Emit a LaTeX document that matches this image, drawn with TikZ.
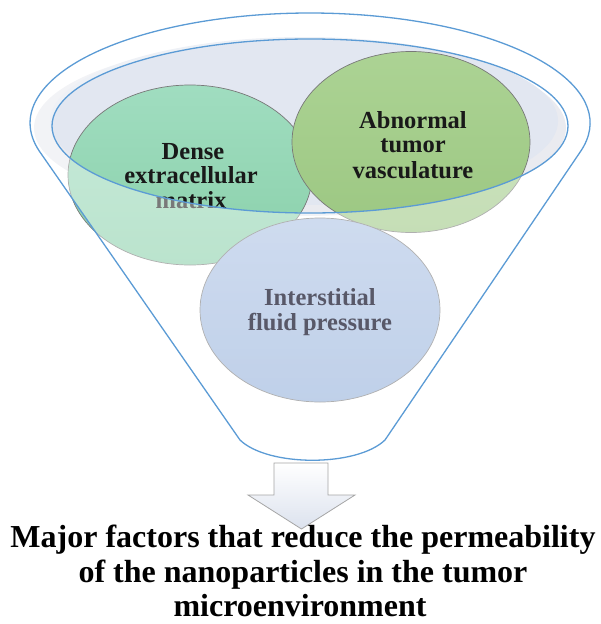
\documentclass[tikz,border=0pt]{standalone}
\usepackage{fontspec}
\setmainfont{Liberation Serif}
\usetikzlibrary{shapes.geometric}
\definecolor{funnelblue}{RGB}{91,155,213}
\definecolor{circgray}{RGB}{120,120,120}
\definecolor{bowlfill}{RGB}{226,231,241}
\definecolor{bowlshadow}{RGB}{234,235,240}
\definecolor{denseTop}{RGB}{160,221,192}
\definecolor{denseBot}{RGB}{138,208,170}
\definecolor{abnTop}{RGB}{172,211,148}
\definecolor{abnBot}{RGB}{156,199,130}
\definecolor{fluidTop}{RGB}{172,194,228}
\definecolor{fluidBot}{RGB}{146,175,218}
\definecolor{fluidtext}{RGB}{88,88,104}
\definecolor{arrowgray}{RGB}{165,165,165}
\definecolor{arrowfill}{RGB}{220,226,238}
\begin{document}
\begin{tikzpicture}[x=1pt,y=-1pt,
  blob/.style={ellipse, draw=circgray, line width=0.7pt, inner sep=0pt},
  ctext/.style={anchor=base, inner sep=0pt, font=\bfseries\fontsize{24.5}{26}\selectfont, text=black!90},
  btext/.style={anchor=base, inner sep=0pt, font=\bfseries\fontsize{32}{35}\selectfont, text=black},
  funnelline/.style={draw=funnelblue, line width=1.3pt, line join=round}]
\useasboundingbox (0,0) rectangle (600,624);

% bowl interior
\fill[bowlshadow] (300,128) ellipse[x radius=266, y radius=88];
\fill[bowlfill] (304,121) ellipse[x radius=254, y radius=84];

% circles
\node[blob, minimum width=244pt, minimum height=180pt, top color=denseTop, bottom color=denseBot] (dense) at (190,175) {};
\node[blob, minimum width=238pt, minimum height=181pt, top color=abnTop, bottom color=abnBot] (abn) at (411,142) {};
\node[blob, minimum width=240pt, minimum height=184pt, top color=fluidTop, bottom color=fluidBot] (fluid) at (320,310) {};

% circle texts
\node[ctext] (d1) at (193,159) {Dense};
\node[ctext] (d2) at (191,183) {extracellular};
\node[ctext] (d3) at (191,208) {matrix};
\node[ctext] (a1) at (413,128) {Abnormal};
\node[ctext] (a2) at (413,152) {tumor};
\node[ctext] (a3) at (413,178) {vasculature};

% translucent funnel body
\fill[white, fill opacity=0.42, even odd rule]
  (580.5,151.5) arc[start angle=15, end angle=-195, x radius=280, y radius=110]
  -- (240,440) .. controls (268,467) and (357,467) .. (385,440) -- cycle
  (310,126) ellipse[x radius=258, y radius=87];

\node[ctext, text=fluidtext] (f1) at (320,305) {Interstitial};
\node[ctext, text=fluidtext] (f2) at (320,330) {fluid pressure};

% funnel outlines
\draw[funnelline]
  (580.5,151.5) arc[start angle=15, end angle=-195, x radius=280, y radius=110]
  -- (240,440) .. controls (268,467) and (357,467) .. (385,440) -- cycle;
\draw[funnelline] (310,126) ellipse[x radius=258, y radius=87];

% block arrow
\draw[draw=arrowgray, line width=0.8pt, line join=miter, top color=white, bottom color=arrowfill]
  (274,463) -- (328,463) -- (328,495) -- (355,495) -- (301.5,529) -- (248,495) -- (274,495) -- cycle;

% bottom text
\node[btext] (t1) at (303,547) {Major factors that reduce the permeability};
\node[btext] (t2) at (303,582) {of the nanoparticles in the tumor};
\node[btext] (t3) at (300,616) {microenvironment};
\end{tikzpicture}
\end{document}
